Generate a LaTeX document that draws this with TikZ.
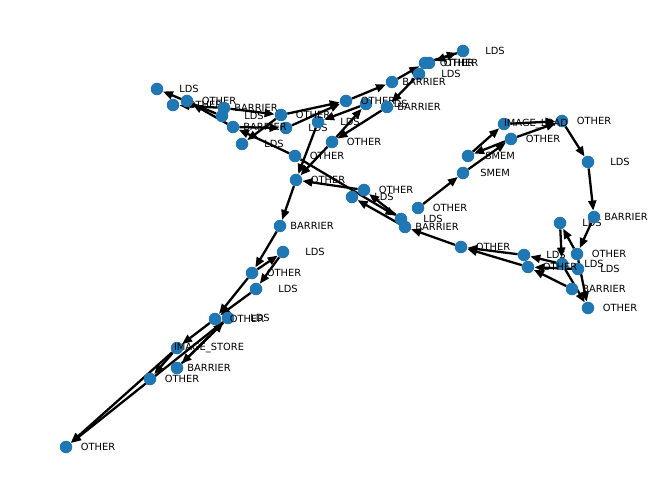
\documentclass[tikz,border=0pt]{standalone}
\usepackage{fontspec}
\setmainfont{DejaVu Sans}
\usepackage{tikz}
\usetikzlibrary{arrows.meta}
\definecolor{nodeblue}{HTML}{1F77B4}
\pgfdeclarelayer{background}
\pgfsetlayers{background,main}

\begin{document}
\begin{tikzpicture}[x=1bp,y=-1bp]
\tikzstyle{vertex} = [circle, fill=nodeblue, minimum size=12.5bp, inner sep=0pt]
\tikzstyle{link} = [draw=black, line width=2.3bp, -{Triangle[length=10bp,width=8bp]}]
\tikzstyle{tag} = [xshift=32bp, font=\fontsize{9.9}{11}\selectfont]

\useasboundingbox (0,0) rectangle (660,499);

% LDS
\node[vertex, label={[tag]center:LDS}] (L1) at (157,89) {};
\node[vertex, label={[tag]center:LDS}] (L2) at (222,116) {};
\node[vertex, label={[tag]center:LDS}] (L3) at (242,144) {};
\node[vertex, label={[tag]center:LDS}] (L4) at (286,128) {};
\node[vertex, label={[tag]center:LDS}] (L5) at (318,122) {};
\node[vertex, label={[tag]center:LDS}] (L6) at (366,104) {};
\node[vertex, label={[tag]center:LDS}] (L7) at (419,74) {};
\node[vertex, label={[tag]center:LDS}] (L8) at (463,51) {};
\node[vertex, label={[tag]center:LDS}] (L9) at (352,197) {};
\node[vertex, label={[tag]center:LDS}] (L10) at (401,219) {};
\node[vertex, label={[tag]center:LDS}] (L11) at (588,162) {};
\node[vertex, label={[tag]center:LDS}] (L12) at (560,223) {};
\node[vertex, label={[tag]center:LDS}] (L13) at (562,264) {};
\node[vertex, label={[tag]center:LDS}] (L14) at (578,269) {};
\node[vertex, label={[tag]center:LDS}] (L15) at (524,255) {};
\node[vertex, label={[tag]center:LDS}] (L16) at (283,252) {};
\node[vertex, label={[tag]center:LDS}] (L17) at (256,289) {};
\node[vertex, label={[tag]center:LDS}] (L18) at (228,318) {};

% OTHER
\node[vertex, label={[tag]center:OTHER}] (O1) at (173,105) {};
\node[vertex, label={[tag]center:OTHER}] (O2) at (187,101) {};
\node[vertex, label={[tag]center:OTHER}] (O3) at (281,115) {};
\node[vertex, label={[tag]center:OTHER}] (O4) at (346,101) {};
\node[vertex, label={[tag]center:OTHER}] (O5) at (332,142) {};
\node[vertex, label={[tag]center:OTHER}] (O6) at (295,156) {};
\node[vertex, label={[tag]center:OTHER}] (O7) at (296,180) {};
\node[vertex, label={[tag]center:OTHER}] (O8) at (425,63) {};
\node[vertex, label={[tag]center:OTHER}] (O9) at (429,63) {};
\node[vertex, label={[tag]center:OTHER}] (O10) at (364,190) {};
\node[vertex, label={[tag]center:OTHER}] (O11) at (418,208) {};
\node[vertex, label={[tag]center:OTHER}] (O12) at (511,139) {};
\node[vertex, label={[tag]center:OTHER}] (O13) at (562,121) {};
\node[vertex, label={[tag]center:OTHER}] (O14) at (577,254) {};
\node[vertex, label={[tag]center:OTHER}] (O15) at (528,267) {};
\node[vertex, label={[tag]center:OTHER}] (O16) at (588,308) {};
\node[vertex, label={[tag]center:OTHER}] (O17) at (461,247) {};
\node[vertex, label={[tag]center:OTHER}] (O18) at (252,273) {};
\node[vertex, label={[tag]center:OTHER}] (O19) at (215,319) {};
\node[vertex, label={[tag]center:OTHER}] (O20) at (150,379) {};
\node[vertex, label={[tag]center:OTHER}] (O21) at (66,447) {};

% BARRIER
\node[vertex, label={[tag]center:BARRIER}] (B1) at (224,108) {};
\node[vertex, label={[tag]center:BARRIER}] (B2) at (233,127) {};
\node[vertex, label={[tag]center:BARRIER}] (B3) at (387,107) {};
\node[vertex, label={[tag]center:BARRIER}] (B4) at (392,82) {};
\node[vertex, label={[tag]center:BARRIER}] (B5) at (405,227) {};
\node[vertex, label={[tag]center:BARRIER}] (B6) at (594,217) {};
\node[vertex, label={[tag]center:BARRIER}] (B7) at (572,289) {};
\node[vertex, label={[tag]center:BARRIER}] (B8) at (280,226) {};
\node[vertex, label={[tag]center:BARRIER}] (B9) at (177,368) {};

% SMEM and images
\node[vertex, label={[tag]center:SMEM}] (S1) at (463,173) {};
\node[vertex, label={[tag]center:SMEM}] (S2) at (468,156) {};
\node[vertex, label={[tag]center:IMAGE\_LOAD}] (IL) at (504,124) {};
\node[vertex, label={[tag]center:IMAGE\_STORE}] (IS) at (177,348) {};

\begin{pgfonlayer}{background}
\path (L2) edge[link] (L1);
\path (B1) edge[link] (O1);
\path (B2) edge[link] (O2);
\path (O3) edge[link] (L3);
\path (B1) edge[link] (O3);
\path (B2) edge[link] (L4);
\path (O6) edge[link] (B2);
\path (O3) edge[link] (O4);
\path (L4) edge[link] (O4);
\path (O4) edge[link] (B4);
\path (B4) edge[link] (O8);
\path (O8) edge[link] (L8);
\path (L8) edge[link] (O9);
\path (L7) edge[link] (B3);
\path (B3) edge[link] (O5);
\path (O5) edge[link] (L6);
\path (L6) edge[link] (L5);
\path (L5) edge[link] (O7);
\path (O5) edge[link] (O7);
\path (O10) edge[link] (O7);
\path (O7) edge[link] (B8);
\path (O6) edge[link] (L10);
\path (L10) edge[link] (O10);
\path (B5) edge[link] (L9);
\path (O17) edge[link] (B5);
\path (O11) edge[link] (S1);
\path (S1) edge[link] (O12);
\path (S2) edge[link] (IL);
\path (O12) edge[link] (S2);
\path (IL) edge[link] (O13);
\path (O12) edge[link] (O13);
\path (O13) edge[link] (L11);
\path (L11) edge[link] (B6);
\path (B6) edge[link] (O14);
\path (O14) edge[link] (L12);
\path (L12) edge[link] (L13);
\path (L13) edge[link] (L15);
\path (L14) edge[link] (O15);
\path (B7) edge[link] (O15);
\path (L15) edge[link] (O17);
\path (O15) edge[link] (O17);
\path (O14) edge[link] (O16);
\path (L13) edge[link] (O16);
\path (B8) edge[link] (O18);
\path (O18) edge[link] (L16);
\path (L16) edge[link] (L17);
\path (O18) edge[link] (O19);
\path (L17) edge[link] (O19);
\path (O19) edge[link] (IS);
\path (IS) edge[link] (O20);
\path (L18) edge[link] (B9);
\path (B9) edge[link] (L18);
\path (IS) edge[link] (O21);
\path (L18) edge[link] (O21);
\end{pgfonlayer}
\end{tikzpicture}
\end{document}
